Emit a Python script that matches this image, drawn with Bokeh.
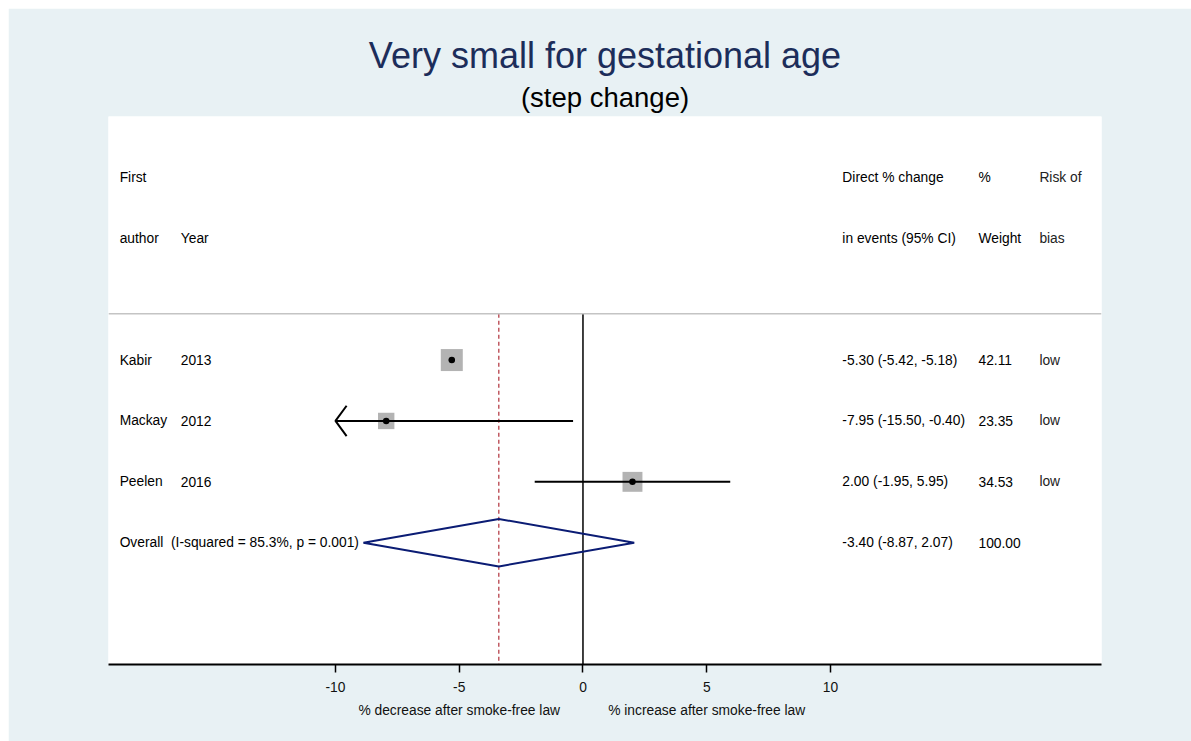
import math
from bokeh.plotting import figure
from bokeh.models import ColumnDataSource, Range1d, FixedTicker, Span, Title, LinearAxis
from bokeh.embed import file_html
from bokeh.resources import INLINE
from bokeh.core.properties import value

# ---------------- data ----------------
authors = ["Kabir", "Mackay", "Peelen"]
years = ["2013", "2012", "2016"]
est = [-5.30, -7.95, 2.00]
ci_lo = [-5.42, -15.50, -1.95]
ci_hi = [-5.18, -0.40, 5.95]
weights = [42.11, 23.35, 34.53]
risk_of_bias = ["low", "low", "low"]
overall_est = -3.40
overall_lo = -8.87
overall_hi = 2.07
overall_weight = 100.00
overall_label = "Overall\u00a0\u00a0(I-squared = 85.3%, p = 0.001)"
x_ticks = [-10, -5, 0, 5, 10]
tick_labels = ["-10", "-5", "0", "5", "10"]
title = "Very small for gestational age"
subtitle = "(step change)"
note_ticks = [-5, 5]
note_labels = ["% decrease after smoke-free law", "% increase after smoke-free law"]

FONT = "Liberation Sans"
FS = "13.8px"
BG = "#e8f1f4"

XMIN, XMAX = -19.17, 20.95
CLIP_LO, CLIP_HI = min(x_ticks), max(x_ticks)

p = figure(width=1183, height=733, output_backend="svg", toolbar_location=None,
           x_range=Range1d(XMIN, XMAX), y_range=Range1d(6.0, -3.0),
           y_axis_location=None, min_border_left=100, min_border_right=90,
           min_border_top=108, min_border_bottom=77)
p.margin = (8, 0, 0, 8)
p.background_fill_color = "white"
p.border_fill_color = BG
p.outline_line_color = None
p.grid.visible = False

ax = p.xaxis[0]
ax.ticker = FixedTicker(ticks=x_ticks)
ax.major_tick_in = 0
ax.major_tick_out = 8
ax.minor_tick_line_color = None
ax.axis_line_width = 2
ax.axis_line_color = "black"
ax.major_tick_line_width = 1.5
ax.major_tick_line_color = "black"
ax.major_label_text_font = FONT
ax.major_label_text_font_size = FS
ax.major_label_text_color = "#111111"
ax.major_label_standoff = 9
ax.major_label_overrides = {t: l for t, l in zip(x_ticks, tick_labels)}

ax2 = LinearAxis(ticker=FixedTicker(ticks=note_ticks),
                 major_label_overrides={t: l for t, l in zip(note_ticks, note_labels)},
                 axis_line_color=None, major_tick_line_color=None, minor_tick_line_color=None,
                 major_tick_in=0, major_tick_out=0, major_label_standoff=8,
                 major_label_text_font=FONT, major_label_text_font_size=FS,
                 major_label_text_color="#111111")
p.add_layout(ax2, "below")

p.add_layout(Title(text=subtitle, align="center", text_font=FONT, text_font_size="27.5px",
                   text_font_style="normal", text_color="black", standoff=7), "above")
p.add_layout(Title(text=title, align="center", text_font=FONT, text_font_size="36px",
                   text_font_style="normal", text_color="#1c2d5a", standoff=2), "above")

rows = list(range(1, len(authors) + 1))
overall_row = len(authors) + 1
SEP = 0.24

# separator and reference lines
p.add_layout(Span(location=SEP, dimension="width", line_color="#c4c4c4", line_width=1.5))
p.segment(x0=[0], y0=[SEP], x1=[0], y1=[6.0], line_color="black", line_width=1.5)
p.segment(x0=[overall_est], y0=[SEP], x1=[overall_est], y1=[6.0],
          line_color="#b0303a", line_width=1.2, line_dash="4 3")

# CI lines (clipped to axis limits)
cl_lo = [max(v, CLIP_LO) for v in ci_lo]
cl_hi = [min(v, CLIP_HI) for v in ci_hi]
sizes = [3.39 * math.sqrt(w) for w in weights]
src = ColumnDataSource(dict(est=est, lo=cl_lo, hi=cl_hi, y=rows, size=sizes))
p.scatter(x="est", y="y", size="size", marker="square", source=src,
          fill_color="#b3b3b3", line_color=None)
p.segment(x0="lo", y0="y", x1="hi", y1="y", source=src, line_color="black", line_width=2)
p.scatter(x="est", y="y", size=6.5, marker="circle", source=src,
          fill_color="black", line_color=None)

# open arrow heads where CI is clipped
axs, ays = [], []
for lo_v, y in zip(ci_lo, rows):
    if lo_v < CLIP_LO:
        axs.append([CLIP_LO + 0.45, CLIP_LO, CLIP_LO + 0.45])
        ays.append([y - 0.25, y, y + 0.25])
for hi_v, y in zip(ci_hi, rows):
    if hi_v > CLIP_HI:
        axs.append([CLIP_HI - 0.45, CLIP_HI, CLIP_HI - 0.45])
        ays.append([y - 0.25, y, y + 0.25])
if axs:
    p.multi_line(xs=axs, ys=ays, line_color="black", line_width=2)

# overall diamond
p.patch(x=[overall_lo, overall_est, overall_hi, overall_est],
        y=[overall_row, overall_row - 0.39, overall_row, overall_row + 0.39],
        fill_color=None, line_color="#0b1c74", line_width=2)

# text columns
X_AUTH, X_YEAR, X_CI, X_W, X_RB = -18.72, -16.25, 10.48, 15.98, 18.44
tx, ty, tt, tc = [], [], [], []
def add(x, y, t, c="black"):
    tx.append(x); ty.append(y); tt.append(t); tc.append(c)

add(X_AUTH, -2, "First"); add(X_AUTH, -1, "author"); add(X_YEAR, -1, "Year")
add(X_CI, -2, "Direct % change"); add(X_CI, -1, "in events (95% CI)")
add(X_W, -2, "%"); add(X_W, -1, "Weight")
add(X_RB, -2, "Risk of", "#222222"); add(X_RB, -1, "bias", "#222222")
for a, yr, e, l, h, w, rb, y in zip(authors, years, est, ci_lo, ci_hi, weights, risk_of_bias, rows):
    add(X_AUTH, y, a); add(X_YEAR, y, yr)
    add(X_CI, y, f"{e:.2f} ({l:.2f}, {h:.2f})")
    add(X_W, y, f"{w:.2f}")
    add(X_RB, y, rb, "#222222")
add(X_AUTH, overall_row, overall_label)
add(X_CI, overall_row, f"{overall_est:.2f} ({overall_lo:.2f}, {overall_hi:.2f})")
add(X_W, overall_row, f"{overall_weight:.2f}")

tsrc = ColumnDataSource(dict(x=tx, y=ty, t=tt, c=tc))
p.text(x="x", y="y", text="t", text_color="c", source=tsrc, text_font=value(FONT),
       text_font_size=value(FS), text_baseline="middle", text_align="left")

open("out.html", "w").write(file_html(p, INLINE))
